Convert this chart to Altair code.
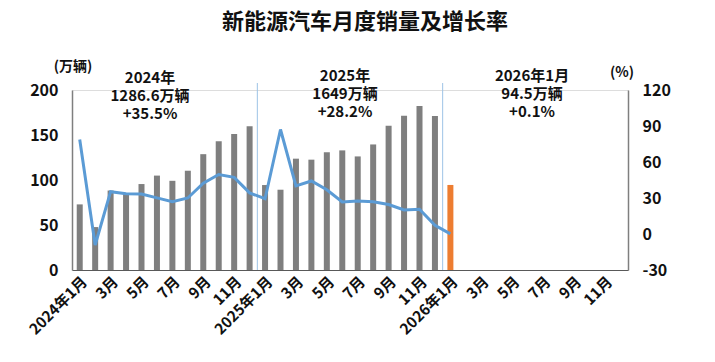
import altair as alt
import pandas as pd

FONT = "Noto Sans CJK SC"

months = [f"{y}-{m:02d}" for y in (2024, 2025, 2026) for m in range(1, 13)]

sales = [72.9, 47.7, 88.3, 85.0, 95.5, 104.9, 99.1, 110.3, 128.7, 143.0, 151.2, 159.6,
         94.4, 89.2, 123.7, 122.6, 130.7, 132.9, 126.2, 139.5, 160.4, 171.5, 182.3, 171.0,
         94.5]
growth = [78.8, -9.2, 35.3, 33.5, 33.3, 30.1, 27.0, 30.0, 42.3, 49.6, 47.2, 34.3,
          29.4, 87.1, 40.1, 44.2, 36.9, 26.7, 27.4, 26.8, 24.6, 20.0, 20.6, 7.2,
          0.1]

df = pd.DataFrame({"key": months[:len(sales)], "sales": sales, "growth": growth})
sep_df = pd.DataFrame({"key": ["2025-01", "2026-01"]})

label_expr = ("substring(datum.value,5,7) == '01' ? substring(datum.value,0,4) + '年1月' : "
              "(toNumber(substring(datum.value,5,7)) % 2 == 1 ? toNumber(substring(datum.value,5,7)) + '月' : '')")

xscale = alt.Scale(domain=months, paddingInner=0, paddingOuter=0)
xenc = alt.X("key:N", scale=xscale, sort=months, title=None,
             axis=alt.Axis(labelAngle=-45, labelExpr=label_expr, labelOverlap=False,
                           ticks=False, labelFontSize=15, labelFontWeight="bold",
                           labelColor="#111", labelPadding=4,
                           domainColor="#595959", domainWidth=1.2))

bars = alt.Chart(df).mark_bar(size=6).encode(
    x=xenc,
    y=alt.Y("sales:Q", scale=alt.Scale(domain=[0, 200]), title=None,
            axis=alt.Axis(values=[0, 50, 100, 150, 200], grid=False, ticks=False,
                          labelFontSize=16, labelFontWeight="bold", labelColor="#111",
                          labelPadding=14, domainColor="#7f7f7f", domainWidth=1.5)),
    color=alt.condition(alt.datum.key == "2026-01", alt.value("#ed7d31"), alt.value("#7f7f7f")),
)

seps = alt.Chart(sep_df).mark_rule(color="#9dc3e6", strokeWidth=1).encode(
    x=alt.X("key:N", scale=xscale, sort=months, bandPosition=0),
    y=alt.value(-7), y2=alt.value(180),
)

line = alt.Chart(df).mark_line(color="#5b9bd5", strokeWidth=3).encode(
    x=alt.X("key:N", scale=xscale, sort=months),
    y=alt.Y("growth:Q", scale=alt.Scale(domain=[-30, 120]), title=None,
            axis=alt.Axis(orient="right", values=[-30, 0, 30, 60, 90, 120], grid=False,
                          ticks=False, labelFontSize=16, labelFontWeight="bold",
                          labelColor="#111", labelPadding=14, labelExpr="'' + datum.value",
                          domainColor="#7f7f7f", domainWidth=1.5)),
)

def txt(text, x, y, size=15, weight="bold"):
    return alt.Chart(pd.DataFrame({"t": [text]})).mark_text(
        font=FONT, fontSize=size, fontWeight=weight, color="#111",
        lineBreak="\n", lineHeight=18, align="center", baseline="middle",
    ).encode(text="t:N", x=alt.value(x), y=alt.value(y))

texts = [
    txt("新能源汽车月度销量及增长率", 293, -68, size=22),
    txt("2024年\n1286.6万辆\n+35.5%", 78, -12),
    txt("2025年\n1649万辆\n+28.2%", 273, -14),
    txt("2026年1月\n94.5万辆\n+0.1%", 460, -14),
    txt("(万辆)", 1, -23, size=14),
    txt("(%)", 550, -17, size=14),
]

left = alt.layer(bars, seps)
chart = alt.layer(left, line, *texts).resolve_scale(y="independent").properties(
    width=556, height=180,
    autosize=alt.AutoSizeParams(type="none"),
    padding={"left": 72, "top": 90, "right": 87, "bottom": 92},
).configure_view(stroke=None).configure(font=FONT)

chart.save("out.html", embed_options={"renderer": "svg", "actions": False})
